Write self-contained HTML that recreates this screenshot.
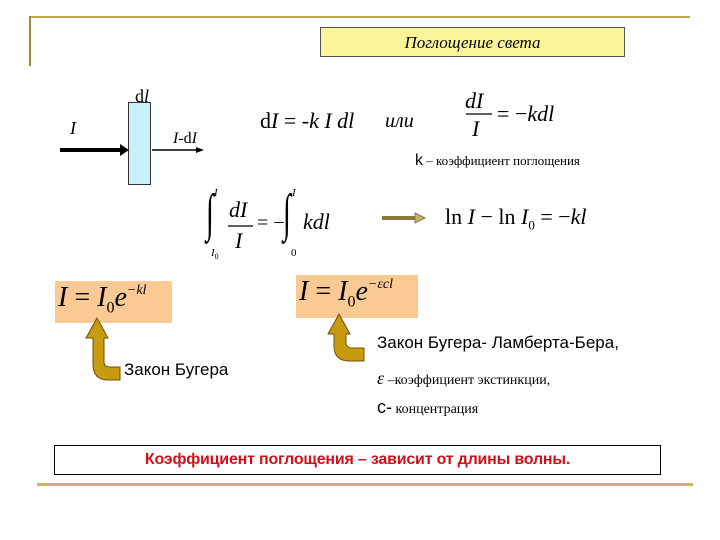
<!DOCTYPE html>
<html><head><meta charset="utf-8"><style>
body{margin:0;width:720px;height:540px;background:#fff;position:relative;overflow:hidden;font-family:"Liberation Serif",serif}
.a{position:absolute;white-space:nowrap}
i{font-style:italic}
.s{font-family:"Liberation Sans",sans-serif}
svg.a{z-index:5}
</style></head><body>
<div class="a" style="left:30px;top:16px;width:660px;height:2px;background:#c8a84a"></div>
<div class="a" style="left:29px;top:16px;width:2px;height:50px;background:#a08830"></div>
<div class="a" style="left:320px;top:27px;width:305px;height:30px;background:#fbf59a;border:1px solid #555;box-sizing:border-box;text-align:center;line-height:29px;font-size:17px;font-style:italic">Поглощение света</div>

<div class="a" style="left:128px;top:102px;width:23px;height:83px;background:#c8f2f8;border:1px solid #333;box-sizing:border-box"></div>
<div class="a" style="left:55px;top:281px;width:117px;height:42px;background:#fbc993"></div>
<div class="a" style="left:296px;top:275px;width:122px;height:43px;background:#fbc993"></div>
<svg class="a" style="left:0;top:0" width="720" height="540">
<line x1="60" y1="150" x2="122" y2="150" stroke="#000" stroke-width="4"/>
<polygon points="120,144 129,150 120,156" fill="#000"/>
<line x1="152" y1="150" x2="198" y2="150" stroke="#000" stroke-width="1.5"/>
<polygon points="196,147 204,150 196,153" fill="#000"/>
<line x1="382" y1="218" x2="416" y2="218" stroke="#8a7a3a" stroke-width="4"/>
<polygon points="415,213 425,218 415,223" fill="#c8b070" stroke="#8a7a3a"/>
<line x1="466" y1="114" x2="492" y2="114" stroke="#000" stroke-width="1.2"/>
<line x1="228" y1="226" x2="253" y2="226" stroke="#000" stroke-width="1.2"/>
<path d="M86 338 L97 318 L108 338 L104 338 L104 362 Q104 367 110 367 L120 367 L120 380 L108 380 Q93 380 93 364 L93 338 Z" fill="#c89a10" stroke="#705008" stroke-width="1"/>
<path d="M328 334 L339 314 L350 334 L346 334 L346 342 Q346 348 352 348 L364 348 L364 361 L350 361 Q334 361 334 346 L334 334 Z" fill="#c89a10" stroke="#705008" stroke-width="1"/>
</svg>
<div class="a" style="left:135px;top:86px;font-size:18px">d<i>l</i></div>
<div class="a" style="left:70px;top:118px;font-size:18px"><i>I</i></div>
<div class="a" style="left:173px;top:130px;font-size:16px"><i>I</i>-d<i>I</i></div>
<div class="a" style="left:260px;top:108px;font-size:22px">d<i>I</i> = -<i>k I dl</i></div>
<div class="a" style="left:385px;top:110px;font-size:20px"><i>или</i></div>
<div class="a" style="left:465px;top:88px;font-size:22px"><i>dI</i></div>
<div class="a" style="left:472px;top:116px;font-size:22px"><i>I</i></div>
<div class="a" style="left:497px;top:101px;font-size:22px">= −<i>kdl</i></div>
<div class="a" style="left:415px;top:152px;font-size:13px"><i class="s" style="font-style:normal;font-size:16px">k</i> – коэффициент поглощения</div>

<div class="a" style="left:206px;top:184px;font-size:52px;line-height:60px;transform:scaleX(.55);transform-origin:left">∫</div>
<div class="a" style="left:214px;top:187px;font-size:11px"><i>I</i></div>
<div class="a" style="left:211px;top:247px;font-size:11px"><i>I</i><sub style="font-size:8px">0</sub></div>
<div class="a" style="left:229px;top:197px;font-size:22px"><i>dI</i></div>
<div class="a" style="left:235px;top:228px;font-size:22px"><i>I</i></div>
<div class="a" style="left:257px;top:212px;font-size:20px">= −</div>
<div class="a" style="left:283px;top:184px;font-size:52px;line-height:60px;transform:scaleX(.55);transform-origin:left">∫</div>
<div class="a" style="left:292px;top:187px;font-size:11px"><i>I</i></div>
<div class="a" style="left:291px;top:247px;font-size:11px">0</div>
<div class="a" style="left:303px;top:209px;font-size:22px"><i>kdl</i></div>
<div class="a" style="left:445px;top:204px;font-size:22px">ln <i>I</i> − ln <i>I</i><sub style="font-size:13px">0</sub> = −<i>kl</i></div>

<div class="a" style="left:58px;top:282px;font-size:28px"><i>I</i> = <i>I</i><sub style="font-size:16px">0</sub><i>e</i><sup style="font-size:14px;vertical-align:12px"><i>−kl</i></sup></div>
<div class="a" style="left:299px;top:276px;font-size:28px"><i>I</i> = <i>I</i><sub style="font-size:16px">0</sub><i>e</i><sup style="font-size:14px;vertical-align:12px"><i>−εcl</i></sup></div>

<div class="a s" style="left:124px;top:360px;font-size:17px">Закон Бугера</div>
<div class="a s" style="left:377px;top:333px;font-size:17px">Закон Бугера- Ламберта-Бера,</div>
<div class="a" style="left:377px;top:368px;font-size:14px"><span style="font-size:18px"><i>ε</i></span> –коэффициент экстинкции,</div>
<div class="a" style="left:377px;top:397px;font-size:14px"><span class="s" style="font-size:18px">с-</span> концентрация</div>

<div class="a s" style="left:54px;top:445px;width:607px;height:30px;border:1px solid #000;box-sizing:border-box;text-align:center;line-height:28px;font-size:16px;color:#d01018;font-weight:bold;letter-spacing:-0.2px">Коэффициент поглощения – зависит от длины волны.</div>
<div class="a" style="left:37px;top:483px;width:656px;height:3px;background:#d4b060"></div>
</body></html>
